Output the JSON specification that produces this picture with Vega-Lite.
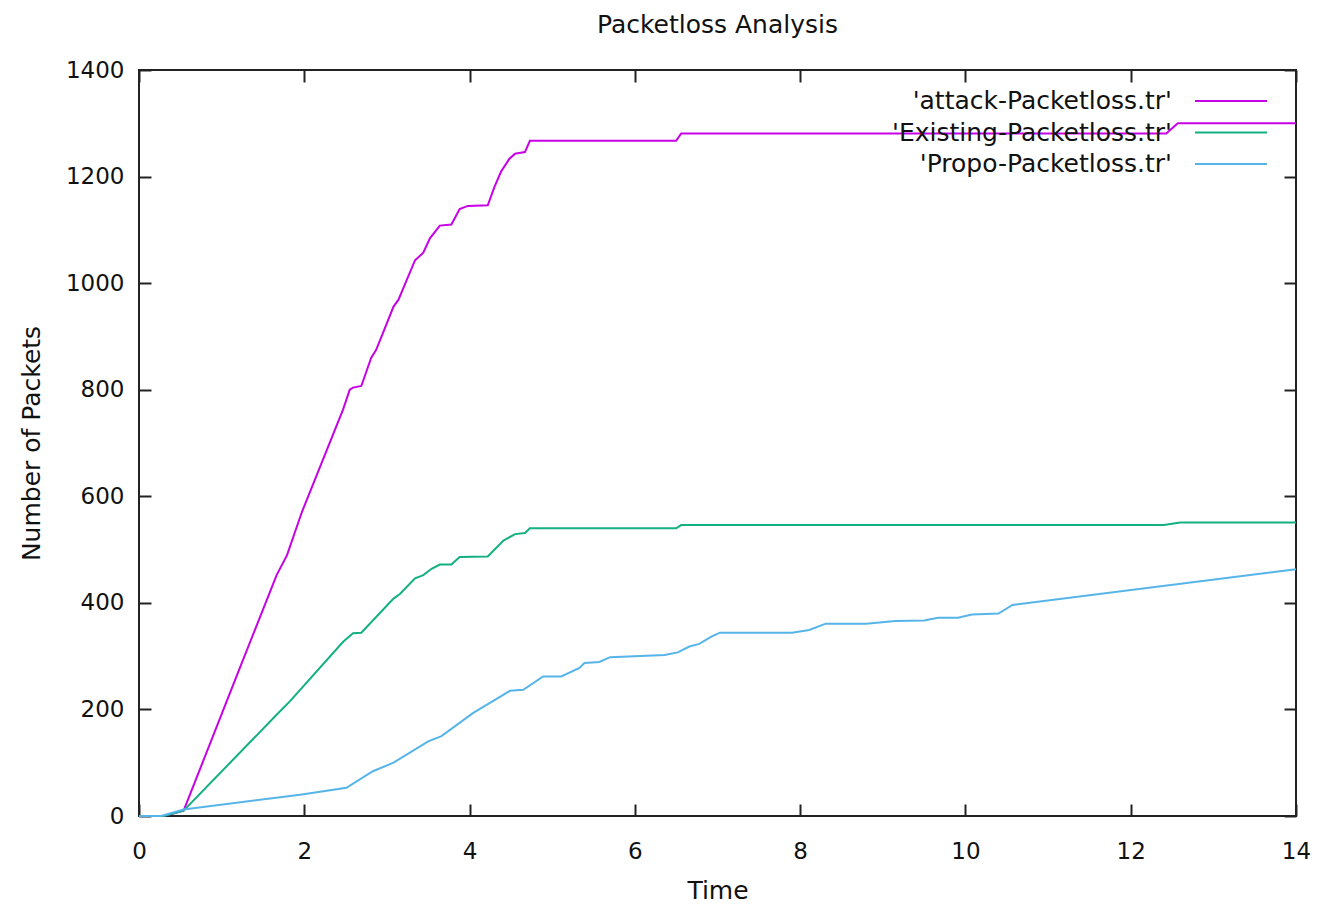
{
  "$schema": "https://vega.github.io/schema/vega-lite/v6.json",
  "autosize": "none",
  "width": 1157,
  "height": 746,
  "padding": {"left": 139, "top": 70, "right": 40, "bottom": 88},
  "background": "white",
  "config": {
    "font": "DejaVu Sans",
    "view": {"stroke": "#222222", "strokeWidth": 2},
    "axis": {
      "grid": false,
      "domain": false,
      "tickSize": -12,
      "tickWidth": 2,
      "tickColor": "#222222",
      "labelFont": "DejaVu Sans",
      "labelFontSize": 23,
      "labelColor": "#111111",
      "titleFont": "DejaVu Sans",
      "titleFontSize": 25,
      "titleFontWeight": "normal",
      "titleColor": "#111111",
      "format": "d"
    }
  },
  "title": {
    "text": "Packetloss Analysis",
    "font": "DejaVu Sans",
    "fontSize": 25,
    "fontWeight": "normal",
    "color": "#111111",
    "anchor": "middle",
    "offset": 21
  },
  "data": {
    "values": [
      {"series": "'attack-Packetloss.tr'", "t": 0, "v": 0},
      {"series": "'attack-Packetloss.tr'", "t": 0.3, "v": 0},
      {"series": "'attack-Packetloss.tr'", "t": 0.54, "v": 10},
      {"series": "'attack-Packetloss.tr'", "t": 1.2, "v": 270},
      {"series": "'attack-Packetloss.tr'", "t": 1.665, "v": 452},
      {"series": "'attack-Packetloss.tr'", "t": 1.79, "v": 489},
      {"series": "'attack-Packetloss.tr'", "t": 1.97, "v": 570},
      {"series": "'attack-Packetloss.tr'", "t": 2.47, "v": 763},
      {"series": "'attack-Packetloss.tr'", "t": 2.55, "v": 800},
      {"series": "'attack-Packetloss.tr'", "t": 2.59, "v": 804},
      {"series": "'attack-Packetloss.tr'", "t": 2.69, "v": 807},
      {"series": "'attack-Packetloss.tr'", "t": 2.81, "v": 860},
      {"series": "'attack-Packetloss.tr'", "t": 2.87, "v": 875},
      {"series": "'attack-Packetloss.tr'", "t": 3.08, "v": 956},
      {"series": "'attack-Packetloss.tr'", "t": 3.14, "v": 969},
      {"series": "'attack-Packetloss.tr'", "t": 3.34, "v": 1043},
      {"series": "'attack-Packetloss.tr'", "t": 3.44, "v": 1057},
      {"series": "'attack-Packetloss.tr'", "t": 3.52, "v": 1084},
      {"series": "'attack-Packetloss.tr'", "t": 3.64, "v": 1108},
      {"series": "'attack-Packetloss.tr'", "t": 3.78, "v": 1110},
      {"series": "'attack-Packetloss.tr'", "t": 3.88, "v": 1139},
      {"series": "'attack-Packetloss.tr'", "t": 3.98, "v": 1145},
      {"series": "'attack-Packetloss.tr'", "t": 4.22, "v": 1146},
      {"series": "'attack-Packetloss.tr'", "t": 4.3, "v": 1180},
      {"series": "'attack-Packetloss.tr'", "t": 4.38, "v": 1209},
      {"series": "'attack-Packetloss.tr'", "t": 4.48, "v": 1233},
      {"series": "'attack-Packetloss.tr'", "t": 4.55, "v": 1243},
      {"series": "'attack-Packetloss.tr'", "t": 4.67, "v": 1246},
      {"series": "'attack-Packetloss.tr'", "t": 4.73, "v": 1267},
      {"series": "'attack-Packetloss.tr'", "t": 6.5, "v": 1267},
      {"series": "'attack-Packetloss.tr'", "t": 6.56, "v": 1281},
      {"series": "'attack-Packetloss.tr'", "t": 12.43, "v": 1281},
      {"series": "'attack-Packetloss.tr'", "t": 12.57, "v": 1300},
      {"series": "'attack-Packetloss.tr'", "t": 14, "v": 1300},

      {"series": "'Existing-Packetloss.tr'", "t": 0, "v": 0},
      {"series": "'Existing-Packetloss.tr'", "t": 0.3, "v": 0},
      {"series": "'Existing-Packetloss.tr'", "t": 0.54, "v": 10},
      {"series": "'Existing-Packetloss.tr'", "t": 1.665, "v": 190},
      {"series": "'Existing-Packetloss.tr'", "t": 1.825, "v": 215},
      {"series": "'Existing-Packetloss.tr'", "t": 2.47, "v": 327},
      {"series": "'Existing-Packetloss.tr'", "t": 2.59, "v": 343},
      {"series": "'Existing-Packetloss.tr'", "t": 2.69, "v": 344},
      {"series": "'Existing-Packetloss.tr'", "t": 3.08, "v": 408},
      {"series": "'Existing-Packetloss.tr'", "t": 3.16, "v": 417},
      {"series": "'Existing-Packetloss.tr'", "t": 3.34, "v": 446},
      {"series": "'Existing-Packetloss.tr'", "t": 3.44, "v": 452},
      {"series": "'Existing-Packetloss.tr'", "t": 3.54, "v": 464},
      {"series": "'Existing-Packetloss.tr'", "t": 3.64, "v": 472},
      {"series": "'Existing-Packetloss.tr'", "t": 3.78, "v": 472},
      {"series": "'Existing-Packetloss.tr'", "t": 3.88, "v": 486},
      {"series": "'Existing-Packetloss.tr'", "t": 4.22, "v": 487},
      {"series": "'Existing-Packetloss.tr'", "t": 4.41, "v": 517},
      {"series": "'Existing-Packetloss.tr'", "t": 4.55, "v": 529},
      {"series": "'Existing-Packetloss.tr'", "t": 4.67, "v": 531},
      {"series": "'Existing-Packetloss.tr'", "t": 4.73, "v": 540},
      {"series": "'Existing-Packetloss.tr'", "t": 6.5, "v": 540},
      {"series": "'Existing-Packetloss.tr'", "t": 6.56, "v": 546},
      {"series": "'Existing-Packetloss.tr'", "t": 12.4, "v": 546},
      {"series": "'Existing-Packetloss.tr'", "t": 12.6, "v": 551},
      {"series": "'Existing-Packetloss.tr'", "t": 14, "v": 551},

      {"series": "'Propo-Packetloss.tr'", "t": 0, "v": 0},
      {"series": "'Propo-Packetloss.tr'", "t": 0.27, "v": 0},
      {"series": "'Propo-Packetloss.tr'", "t": 0.54, "v": 12},
      {"series": "'Propo-Packetloss.tr'", "t": 1.95, "v": 40},
      {"series": "'Propo-Packetloss.tr'", "t": 2.51, "v": 53},
      {"series": "'Propo-Packetloss.tr'", "t": 2.83, "v": 84},
      {"series": "'Propo-Packetloss.tr'", "t": 3.08, "v": 100},
      {"series": "'Propo-Packetloss.tr'", "t": 3.5, "v": 140},
      {"series": "'Propo-Packetloss.tr'", "t": 3.66, "v": 150},
      {"series": "'Propo-Packetloss.tr'", "t": 4.04, "v": 193},
      {"series": "'Propo-Packetloss.tr'", "t": 4.49, "v": 235},
      {"series": "'Propo-Packetloss.tr'", "t": 4.65, "v": 237},
      {"series": "'Propo-Packetloss.tr'", "t": 4.89, "v": 262},
      {"series": "'Propo-Packetloss.tr'", "t": 5.11, "v": 262},
      {"series": "'Propo-Packetloss.tr'", "t": 5.33, "v": 278},
      {"series": "'Propo-Packetloss.tr'", "t": 5.39, "v": 287},
      {"series": "'Propo-Packetloss.tr'", "t": 5.57, "v": 289},
      {"series": "'Propo-Packetloss.tr'", "t": 5.7, "v": 298},
      {"series": "'Propo-Packetloss.tr'", "t": 6.36, "v": 302},
      {"series": "'Propo-Packetloss.tr'", "t": 6.52, "v": 307},
      {"series": "'Propo-Packetloss.tr'", "t": 6.66, "v": 318},
      {"series": "'Propo-Packetloss.tr'", "t": 6.78, "v": 323},
      {"series": "'Propo-Packetloss.tr'", "t": 6.92, "v": 336},
      {"series": "'Propo-Packetloss.tr'", "t": 7.03, "v": 344},
      {"series": "'Propo-Packetloss.tr'", "t": 7.9, "v": 344},
      {"series": "'Propo-Packetloss.tr'", "t": 8.11, "v": 349},
      {"series": "'Propo-Packetloss.tr'", "t": 8.31, "v": 361},
      {"series": "'Propo-Packetloss.tr'", "t": 8.8, "v": 361},
      {"series": "'Propo-Packetloss.tr'", "t": 9.15, "v": 366},
      {"series": "'Propo-Packetloss.tr'", "t": 9.5, "v": 367},
      {"series": "'Propo-Packetloss.tr'", "t": 9.67, "v": 372},
      {"series": "'Propo-Packetloss.tr'", "t": 9.91, "v": 372},
      {"series": "'Propo-Packetloss.tr'", "t": 10.08, "v": 378},
      {"series": "'Propo-Packetloss.tr'", "t": 10.4, "v": 380},
      {"series": "'Propo-Packetloss.tr'", "t": 10.57, "v": 396},
      {"series": "'Propo-Packetloss.tr'", "t": 14, "v": 463}
    ]
  },
  "layer": [
    {
      "mark": {"type": "line", "strokeWidth": 2, "interpolate": "linear"},
      "encoding": {
        "x": {
          "field": "t", "type": "quantitative",
          "scale": {"domain": [0, 14], "nice": false, "zero": false},
          "axis": {"orient": "bottom", "values": [0, 2, 4, 6, 8, 10, 12, 14], "labelPadding": 36, "title": "Time", "titlePadding": 15, "labelFlush": false}
        },
        "y": {
          "field": "v", "type": "quantitative",
          "scale": {"domain": [0, 1400], "nice": false},
          "axis": {"orient": "left", "values": [0, 200, 400, 600, 800, 1000, 1200, 1400], "labelPadding": 27, "title": "Number of Packets", "titlePadding": 21, "labelFlush": false}
        },
        "order": {"field": "t", "type": "quantitative"},
        "color": {
          "field": "series", "type": "nominal",
          "scale": {
            "domain": ["'attack-Packetloss.tr'", "'Existing-Packetloss.tr'", "'Propo-Packetloss.tr'"],
            "range": ["#c800e6", "#13b081", "#56b4e9"]
          },
          "legend": {
            "orient": "none",
            "legendX": 1079,
            "legendY": 18,
            "title": null,
            "padding": 0,
            "symbolType": "M-3,0H3",
            "symbolSize": 576,
            "symbolStrokeWidth": 2,
            "symbolFillColor": "transparent",
            "labelAlign": "right",
            "labelOffset": -72,
            "labelFont": "DejaVu Sans",
            "labelFontSize": 25,
            "labelColor": "#111111",
            "labelLimit": 600,
            "rowPadding": 5.5
          }
        }
      }
    },
    {
      "mark": {"type": "line", "opacity": 0},
      "encoding": {
        "x": {
          "field": "t", "type": "quantitative",
          "scale": {"domain": [0, 14], "nice": false, "zero": false},
          "axis": {"orient": "top", "values": [0, 2, 4, 6, 8, 10, 12, 14], "labels": false, "title": null}
        },
        "y": {
          "field": "v", "type": "quantitative",
          "scale": {"domain": [0, 1400], "nice": false},
          "axis": {"orient": "right", "values": [0, 200, 400, 600, 800, 1000, 1200, 1400], "labels": false, "title": null}
        },
        "detail": {"field": "series", "type": "nominal"}
      }
    }
  ],
  "resolve": {"scale": {"x": "independent", "y": "independent"}}
}
